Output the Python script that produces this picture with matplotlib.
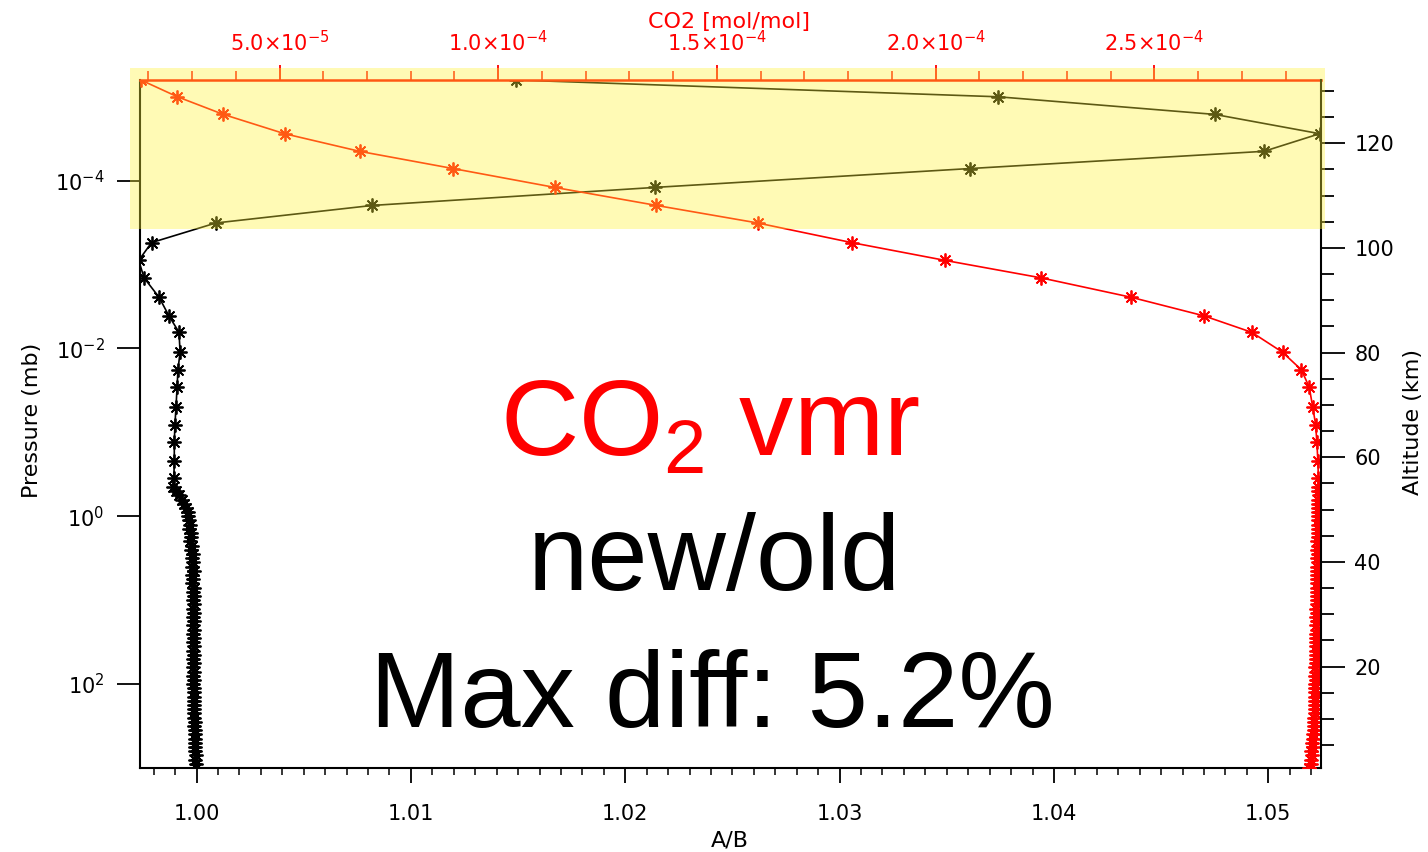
import matplotlib
matplotlib.use('Agg')
import matplotlib.pyplot as plt
import numpy as np
from matplotlib import ticker
from matplotlib.patches import Rectangle

# niveles de presion (log10 mb), parte alta (puntos separados)
log_p_upper = [-5.20, -5.00, -4.79, -4.56, -4.35, -4.145, -3.92, -3.705, -3.496, -3.262,
               -3.05, -2.842, -2.61, -2.389, -2.193, -1.955, -1.746, -1.538, -1.306, -1.092,
               -0.883, -0.663, -0.461]
ratio_upper = [1.0149, 1.0374, 1.0475, 1.0524, 1.0498, 1.0361, 1.0214, 1.0082, 1.0009, 0.9979,
               0.9973, 0.99755, 0.99825, 0.99871, 0.99918, 0.99923, 0.99913, 0.99909, 0.99904, 0.99899,
               0.99896, 0.99896, 0.99894]
co2_upper = [0.183, 0.2666, 0.3715, 0.5114, 0.6829, 0.8964, 1.1289, 1.3617, 1.593, 1.8082,
             2.0215, 2.2410, 2.4474, 2.6134, 2.7227, 2.7931, 2.8361, 2.8542, 2.8619, 2.8688,
             2.8715, 2.8738, 2.8750]

# parte baja (puntos densos)
log_p_lower = [-0.35, -0.30, -0.25, -0.20, -0.15, -0.10, -0.05, 0.00, 0.05, 0.10,
               0.15, 0.20, 0.25, 0.30, 0.35, 0.40, 0.45, 0.50, 0.55, 0.60,
               0.65, 0.70, 0.75, 0.80, 0.85, 0.90, 0.95, 1.00, 1.05, 1.10,
               1.15, 1.20, 1.25, 1.30, 1.35, 1.40, 1.45, 1.50, 1.55, 1.60,
               1.65, 1.70, 1.75, 1.80, 1.85, 1.90, 1.95, 2.00, 2.05, 2.10,
               2.15, 2.20, 2.25, 2.30, 2.35, 2.40, 2.45, 2.50, 2.55, 2.60,
               2.65, 2.70, 2.75, 2.80, 2.85, 2.90, 2.95, 3.00]
ratio_lower = [0.99888, 0.99902, 0.99920, 0.99931, 0.99942, 0.99950, 0.99958, 0.99961, 0.99966, 0.99969,
               0.99964, 0.99973, 0.99976, 0.99970, 0.99979, 0.99975, 0.99982, 0.99978, 0.99984, 0.99977,
               0.99986, 0.99980, 0.99985, 0.99979, 0.99987, 0.99982, 0.99988, 0.99981, 0.99989, 0.99983,
               0.99988, 0.99982, 0.99990, 0.99984, 0.99988, 0.99983, 0.99990, 0.99985, 0.99987, 0.99984,
               0.99989, 0.99985, 0.99986, 0.99984, 0.99987, 0.99985, 0.99986, 0.99985, 0.99987, 0.99986,
               0.99988, 0.99986, 0.99989, 0.99988, 0.99990, 0.99989, 0.99991, 0.99990, 0.99992, 0.99991,
               0.99993, 0.99992, 0.99994, 0.99993, 0.99995, 0.99994, 0.99996, 0.99995]
co2_lower = [2.8752, 2.8748, 2.8755, 2.8745, 2.8750, 2.8742, 2.8748, 2.8738, 2.8745, 2.8735,
             2.8742, 2.8730, 2.8740, 2.8728, 2.8736, 2.8725, 2.8733, 2.8722, 2.8731, 2.8720,
             2.8728, 2.8718, 2.8726, 2.8715, 2.8724, 2.8712, 2.8721, 2.8710, 2.8718, 2.8706,
             2.8715, 2.8703, 2.8711, 2.8700, 2.8708, 2.8697, 2.8704, 2.8694, 2.8700, 2.8690,
             2.8696, 2.8687, 2.8692, 2.8684, 2.8688, 2.8681, 2.8685, 2.8678, 2.8681, 2.8675,
             2.8677, 2.8670, 2.8672, 2.8662, 2.8665, 2.8652, 2.8656, 2.8640, 2.8645, 2.8625,
             2.8632, 2.8610, 2.8618, 2.8592, 2.8600, 2.8570, 2.8585, 2.8545]

p_ticks = [1e-4, 1e-2, 1e0, 1e2]

p = 10 ** np.array(log_p_upper + log_p_lower)
ratio = np.array(ratio_upper + ratio_lower)
co2 = np.array(co2_upper + co2_lower) * 1e-4

W, H = 1428, 852
def px(x, y):
    return x / W, 1 - y / H

fig = plt.figure(figsize=(W / 100, H / 100), dpi=100)
ax = fig.add_axes([140 / W, 1 - 768 / H, (1321 - 140) / W, (768 - 80) / H])

star = (8, 2, 0)
ax.plot(ratio, p, color='black', lw=1.2, marker=star, ms=10, mew=1.3)
ax.set_yscale('log')
ax.set_xlim(0.99736, 1.05246)
ax.set_ylim(10 ** 3.0, 10 ** -5.2)
ax.xaxis.set_major_locator(ticker.MultipleLocator(0.01))
ax.xaxis.set_minor_locator(ticker.MultipleLocator(0.001))
ax.xaxis.set_major_formatter(ticker.FormatStrFormatter('%.2f'))
ax.yaxis.set_major_locator(ticker.FixedLocator(p_ticks))
ax.yaxis.set_minor_locator(ticker.NullLocator())
ax.yaxis.set_major_formatter(ticker.FuncFormatter(lambda v, pos: r'$10^{%d}$' % round(np.log10(v))))
ax.tick_params(axis='x', which='major', direction='out', length=11, width=1.3, labelsize=15, pad=15)
ax.tick_params(axis='x', which='minor', direction='out', length=5, width=1.1)
ax.tick_params(axis='y', which='major', direction='out', length=16.5, width=1.3, labelsize=15, pad=9)
for s in ['top', 'right']:
    ax.spines[s].set_visible(False)
for s in ['left', 'bottom']:
    ax.spines[s].set_linewidth(1.5)

# eje superior: CO2
ax_top = ax.twiny()
ax_top.plot(co2, p, color='red', lw=1.2, marker=star, ms=10, mew=1.3)
ax_top.set_xlim(1.81e-5, 2.881e-4)
ax_top.xaxis.set_major_locator(ticker.MultipleLocator(5e-5))
ax_top.xaxis.set_minor_locator(ticker.MultipleLocator(1e-5))

def sci(v, pos):
    if v <= 0:
        return ''
    e = int(np.floor(np.log10(v) + 1e-9))
    return r'$%.1f{\times}10^{%d}$' % (v / 10 ** e, e)

ax_top.xaxis.set_major_formatter(ticker.FuncFormatter(sci))
ax_top.tick_params(axis='x', which='major', direction='out', length=11, width=1.3,
                   labelsize=15, pad=7, colors='red')
ax_top.tick_params(axis='x', which='minor', direction='out', length=6.5, width=1.1, colors='red')
for s in ['left', 'right', 'bottom']:
    ax_top.spines[s].set_visible(False)
ax_top.spines['top'].set_color('red')
ax_top.spines['top'].set_linewidth(1.8)

# eje derecho: altitud
ax_r = ax.twinx()
ax_r.set_ylim(0.6, 132.1)
ax_r.yaxis.set_major_locator(ticker.MultipleLocator(20))
ax_r.yaxis.set_minor_locator(ticker.MultipleLocator(5))
ax_r.tick_params(axis='y', which='major', direction='out', length=17, width=1.3, labelsize=15, pad=7)
ax_r.tick_params(axis='y', which='minor', direction='out', length=9, width=1.3)
for s in ['left', 'top', 'bottom']:
    ax_r.spines[s].set_visible(False)
ax_r.spines['right'].set_linewidth(1.5)

fig.text(*px(730, 840), 'A/B', ha='center', va='center', fontsize=16)
fig.text(*px(32, 420), 'Pressure (mb)', rotation=90, ha='center', va='center', fontsize=16)
fig.text(*px(1413, 422), 'Altitude (km)', rotation=90, ha='center', va='center', fontsize=16)
fig.text(*px(729, 22), 'CO2 [mol/mol]', ha='center', va='center', fontsize=16, color='red')

# franja amarilla
rect = Rectangle(px(130, 229), (1325 - 130) / W, (229 - 68) / H, transform=fig.transFigure,
                 facecolor='#FFF236', alpha=0.37, edgecolor='none', zorder=10)
fig.add_artist(rect)

big = dict(fontsize=78, family='Liberation Sans', ha='center', va='baseline')
fig.text(*px(710, 455), r'CO$_\mathregular{2}$ vmr', color='red', **big)
fig.text(*px(714, 590), 'new/old', color='black', **big)
fig.text(*px(712, 727), 'Max diff: 5.2%', color='black', **big)

fig.savefig('out.png', dpi=100)
